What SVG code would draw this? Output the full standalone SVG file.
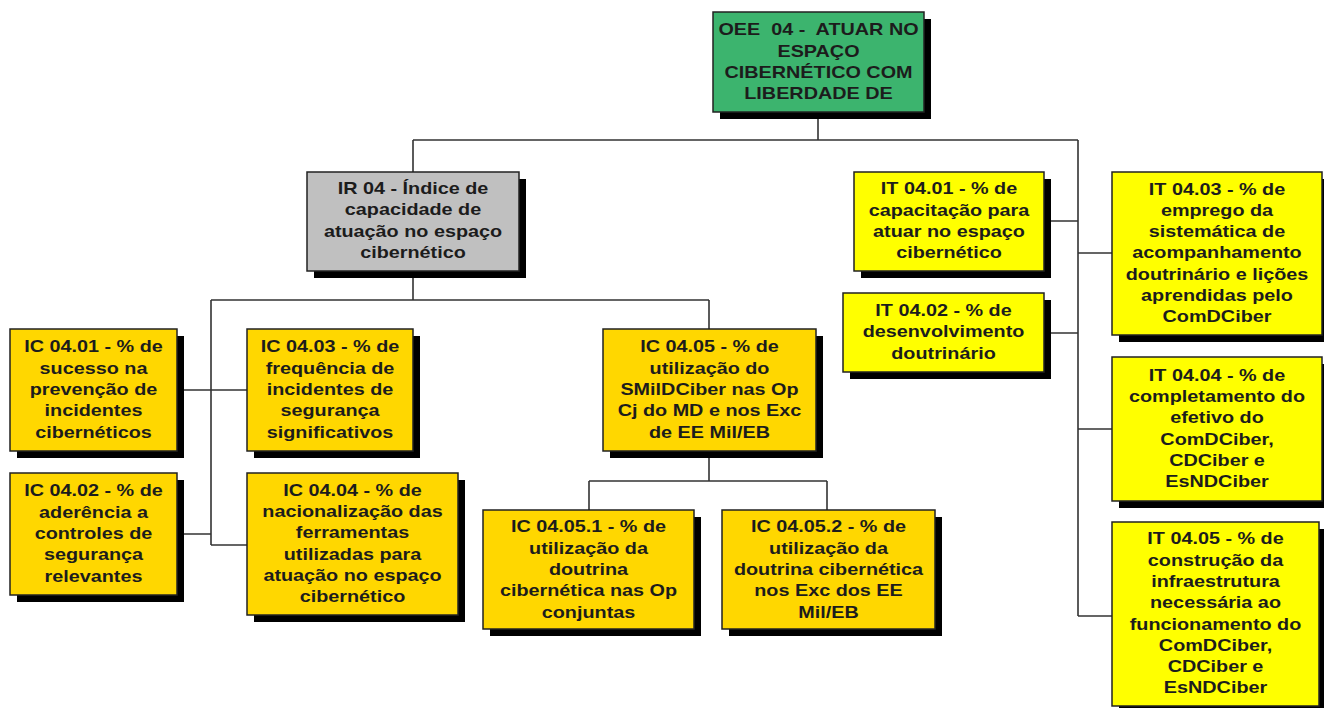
<svg xmlns="http://www.w3.org/2000/svg" width="1324" height="708" viewBox="0 0 1324 708">
  <style>
    .shadow { fill: #000; }
    .box { stroke: #222; stroke-width: 1.5; }
    .green { fill: #3CB46E; }
    .gray { fill: #C0C0C0; }
    .gold { fill: #FFD700; }
    .yellow { fill: #FFFF00; }
    .lbl { font-family: "Liberation Sans", Arial, sans-serif; font-weight: bold; font-size: 16.5px; fill: #1c1c1c; text-anchor: middle; }
    .conn { fill: none; stroke: #333; stroke-width: 1.6; }
  </style>
  <rect width="1324" height="708" fill="#fff"/>

  <!-- connectors -->
  <g id="connectors" class="conn">
    <path d="M818,112 V140 M413,140 H1078 M413,140 V172 M1078,140 V616"/>
    <path d="M413,271 V300 M211,300 H709 M211,300 V545 M709,300 V329"/>
    <path d="M177,390 H247 M177,534 H211 M211,545 H247"/>
    <path d="M709,451 V481 M589,481 H827 M589,481 V510 M827,481 V510"/>
    <path d="M1044,221 H1078 M1044,333 H1078 M1078,253 H1112 M1078,429 H1112 M1078,616 H1112"/>
  </g>

  <!-- strategic objective -->
  <g id="oee04">
    <rect class="shadow" x="720" y="19" width="211" height="100"/>
    <rect class="box green" x="713" y="12" width="211" height="100"/>
    <text class="lbl" transform="translate(818.5 0) scale(1.2 1)"><tspan x="0" y="35.5">OEE&#160; 04 -&#160; ATUAR NO</tspan><tspan x="0" y="56.8">ESPAÇO</tspan><tspan x="0" y="78.1">CIBERNÉTICO COM</tspan><tspan x="0" y="99.4">LIBERDADE DE</tspan></text>
  </g>

  <!-- result indicator -->
  <g id="ir04">
    <rect class="shadow" x="314" y="179" width="212" height="99"/>
    <rect class="box gray" x="307" y="172" width="212" height="99"/>
    <text class="lbl" transform="translate(413 0) scale(1.2 1)"><tspan x="0" y="194">IR 04 - Índice de</tspan><tspan x="0" y="215.3">capacidade de</tspan><tspan x="0" y="236.6">atuação no espaço</tspan><tspan x="0" y="257.9">cibernético</tspan></text>
  </g>

  <!-- IC indicators -->
  <g id="ic0401">
    <rect class="shadow" x="17" y="336" width="167" height="122"/>
    <rect class="box gold" x="10" y="329" width="167" height="122"/>
    <text class="lbl" transform="translate(93.5 0) scale(1.2 1)"><tspan x="0" y="352.4">IC 04.01 - % de</tspan><tspan x="0" y="373.7">sucesso na</tspan><tspan x="0" y="395">prevenção de</tspan><tspan x="0" y="416.3">incidentes</tspan><tspan x="0" y="437.6">cibernéticos</tspan></text>
  </g>

  <g id="ic0403">
    <rect class="shadow" x="254" y="336" width="166" height="122"/>
    <rect class="box gold" x="247" y="329" width="166" height="122"/>
    <text class="lbl" transform="translate(330 0) scale(1.2 1)"><tspan x="0" y="352.4">IC 04.03 - % de</tspan><tspan x="0" y="373.7">frequência de</tspan><tspan x="0" y="395">incidentes de</tspan><tspan x="0" y="416.3">segurança</tspan><tspan x="0" y="437.6">significativos</tspan></text>
  </g>

  <g id="ic0402">
    <rect class="shadow" x="17" y="480" width="167" height="122"/>
    <rect class="box gold" x="10" y="473" width="167" height="122"/>
    <text class="lbl" transform="translate(93.5 0) scale(1.2 1)"><tspan x="0" y="496.4">IC 04.02 - % de</tspan><tspan x="0" y="517.7">aderência a</tspan><tspan x="0" y="539">controles de</tspan><tspan x="0" y="560.3">segurança</tspan><tspan x="0" y="581.6">relevantes</tspan></text>
  </g>

  <g id="ic0404">
    <rect class="shadow" x="254" y="480" width="211" height="142"/>
    <rect class="box gold" x="247" y="473" width="211" height="142"/>
    <text class="lbl" transform="translate(352.5 0) scale(1.2 1)"><tspan x="0" y="495.8">IC 04.04 - % de</tspan><tspan x="0" y="517.1">nacionalização das</tspan><tspan x="0" y="538.4">ferramentas</tspan><tspan x="0" y="559.7">utilizadas para</tspan><tspan x="0" y="581">atuação no espaço</tspan><tspan x="0" y="602.3">cibernético</tspan></text>
  </g>

  <g id="ic0405">
    <rect class="shadow" x="610" y="336" width="213" height="122"/>
    <rect class="box gold" x="603" y="329" width="213" height="122"/>
    <text class="lbl" transform="translate(709.5 0) scale(1.2 1)"><tspan x="0" y="352.4">IC 04.05 - % de</tspan><tspan x="0" y="373.7">utilização do</tspan><tspan x="0" y="395">SMilDCiber nas Op</tspan><tspan x="0" y="416.3">Cj do MD e nos Exc</tspan><tspan x="0" y="437.6">de EE Mil/EB</tspan></text>
  </g>

  <g id="ic04051">
    <rect class="shadow" x="490" y="517" width="211" height="119"/>
    <rect class="box gold" x="483" y="510" width="211" height="119"/>
    <text class="lbl" transform="translate(588.5 0) scale(1.2 1)"><tspan x="0" y="532.4">IC 04.05.1 - % de</tspan><tspan x="0" y="553.7">utilização da</tspan><tspan x="0" y="575">doutrina</tspan><tspan x="0" y="596.3">cibernética nas Op</tspan><tspan x="0" y="617.6">conjuntas</tspan></text>
  </g>

  <g id="ic04052">
    <rect class="shadow" x="729" y="517" width="213" height="119"/>
    <rect class="box gold" x="722" y="510" width="213" height="119"/>
    <text class="lbl" transform="translate(828.5 0) scale(1.2 1)"><tspan x="0" y="532.4">IC 04.05.2 - % de</tspan><tspan x="0" y="553.7">utilização da</tspan><tspan x="0" y="575">doutrina cibernética</tspan><tspan x="0" y="596.3">nos Exc dos EE</tspan><tspan x="0" y="617.6">Mil/EB</tspan></text>
  </g>

  <!-- IT indicators -->
  <g id="it0401">
    <rect class="shadow" x="861" y="179" width="190" height="99"/>
    <rect class="box yellow" x="854" y="172" width="190" height="99"/>
    <text class="lbl" transform="translate(949 0) scale(1.2 1)"><tspan x="0" y="194.5">IT 04.01 - % de</tspan><tspan x="0" y="215.8">capacitação para</tspan><tspan x="0" y="237.1">atuar no espaço</tspan><tspan x="0" y="258.4">cibernético</tspan></text>
  </g>

  <g id="it0402">
    <rect class="shadow" x="850" y="300" width="201" height="79"/>
    <rect class="box yellow" x="843" y="293" width="201" height="79"/>
    <text class="lbl" transform="translate(943.5 0) scale(1.2 1)"><tspan x="0" y="316.2">IT 04.02 - % de</tspan><tspan x="0" y="337.5">desenvolvimento</tspan><tspan x="0" y="358.8">doutrinário</tspan></text>
  </g>

  <g id="it0403">
    <rect class="shadow" x="1119" y="179" width="210" height="163"/>
    <rect class="box yellow" x="1112" y="172" width="210" height="163"/>
    <text class="lbl" transform="translate(1217 0) scale(1.2 1)"><tspan x="0" y="194.6">IT 04.03 - % de</tspan><tspan x="0" y="215.9">emprego da</tspan><tspan x="0" y="237.2">sistemática de</tspan><tspan x="0" y="258.5">acompanhamento</tspan><tspan x="0" y="279.8">doutrinário e lições</tspan><tspan x="0" y="301.1">aprendidas pelo</tspan><tspan x="0" y="322.4">ComDCiber</tspan></text>
  </g>

  <g id="it0404">
    <rect class="shadow" x="1119" y="364" width="210" height="144"/>
    <rect class="box yellow" x="1112" y="357" width="210" height="144"/>
    <text class="lbl" transform="translate(1217 0) scale(1.2 1)"><tspan x="0" y="380.8">IT 04.04 - % de</tspan><tspan x="0" y="402.1">completamento do</tspan><tspan x="0" y="423.4">efetivo do</tspan><tspan x="0" y="444.7">ComDCiber,</tspan><tspan x="0" y="466">CDCiber e</tspan><tspan x="0" y="487.3">EsNDCiber</tspan></text>
  </g>

  <g id="it0405">
    <rect class="shadow" x="1119" y="529" width="207" height="184"/>
    <rect class="box yellow" x="1112" y="522" width="207" height="184"/>
    <text class="lbl" transform="translate(1215.5 0) scale(1.2 1)"><tspan x="0" y="544.4">IT 04.05 - % de</tspan><tspan x="0" y="565.7">construção da</tspan><tspan x="0" y="587">infraestrutura</tspan><tspan x="0" y="608.3">necessária ao</tspan><tspan x="0" y="629.6">funcionamento do</tspan><tspan x="0" y="650.9">ComDCiber,</tspan><tspan x="0" y="672.2">CDCiber e</tspan><tspan x="0" y="693.5">EsNDCiber</tspan></text>
  </g>
</svg>
